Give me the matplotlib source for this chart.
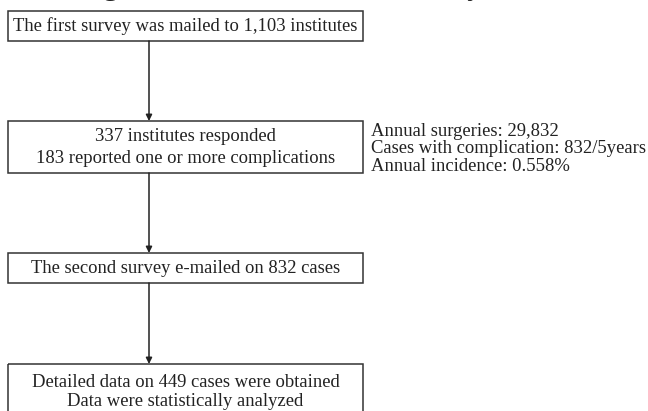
import matplotlib.pyplot as plt
from matplotlib.patches import Rectangle

plt.rcParams['font.family'] = ['Liberation Serif', 'DejaVu Serif']

# flow boxes: text lines, top and bottom (pixel rows of the reference)
box_texts = [
    ["The first survey was mailed to 1,103 institutes"],
    ["337 institutes responded", "183 reported one or more complications"],
    ["The second survey e-mailed on 832 cases"],
    ["Detailed data on 449 cases were obtained", "Data were statistically analyzed"],
]
box_tops = [11, 121, 253, 364]
box_bottoms = [41, 173, 283, 440]
side_notes = ["Annual surgeries: 29,832",
              "Cases with complication: 832/5years",
              "Annual incidence: 0.558%"]
title = "Flow diagram of the nationwide survey"

W, H = 648, 411
fig = plt.figure(figsize=(W / 100, H / 100), dpi=100)
ax = fig.add_axes([0, 0, 1, 1])
ax.set_xlim(0, W)
ax.set_ylim(H, 0)
ax.axis('off')

left, right = 8, 363
xc = (left + right) / 2
arrow_x = 149
line_gap = 22
fs = 13.4

# title sits above the canvas, only descenders show (as in the reference)
ax.text(-4, -4.8, title, fontsize=21, fontweight='bold', ha='left', va='baseline',
        color='#222222', clip_on=False)

for i, lines in enumerate(box_texts):
    top, bot = box_tops[i], box_bottoms[i]
    ax.add_patch(Rectangle((left, top), right - left, bot - top, fill=False,
                           edgecolor='#333333', lw=1.1))
    if i == len(box_texts) - 1:
        ys = [382, 401]
    else:
        mid = (top + bot) / 2
        ys = [mid + (k - (len(lines) - 1) / 2) * line_gap for k in range(len(lines))]
    for y, t in zip(ys, lines):
        ax.text(xc, y, t, fontsize=fs, ha='center', va='center', color='#222222')
    if i < len(box_texts) - 1:
        ax.annotate('', xy=(arrow_x, box_tops[i + 1]), xytext=(arrow_x, bot),
                    arrowprops=dict(arrowstyle='-|>', color='#222222', lw=1.1,
                                    mutation_scale=9, shrinkA=0, shrinkB=0))

for k, t in enumerate(side_notes):
    ax.text(371, 131 + k * 17.5, t, fontsize=fs, ha='left', va='center',
            color='#222222')

fig.savefig('out.png', dpi=100)
